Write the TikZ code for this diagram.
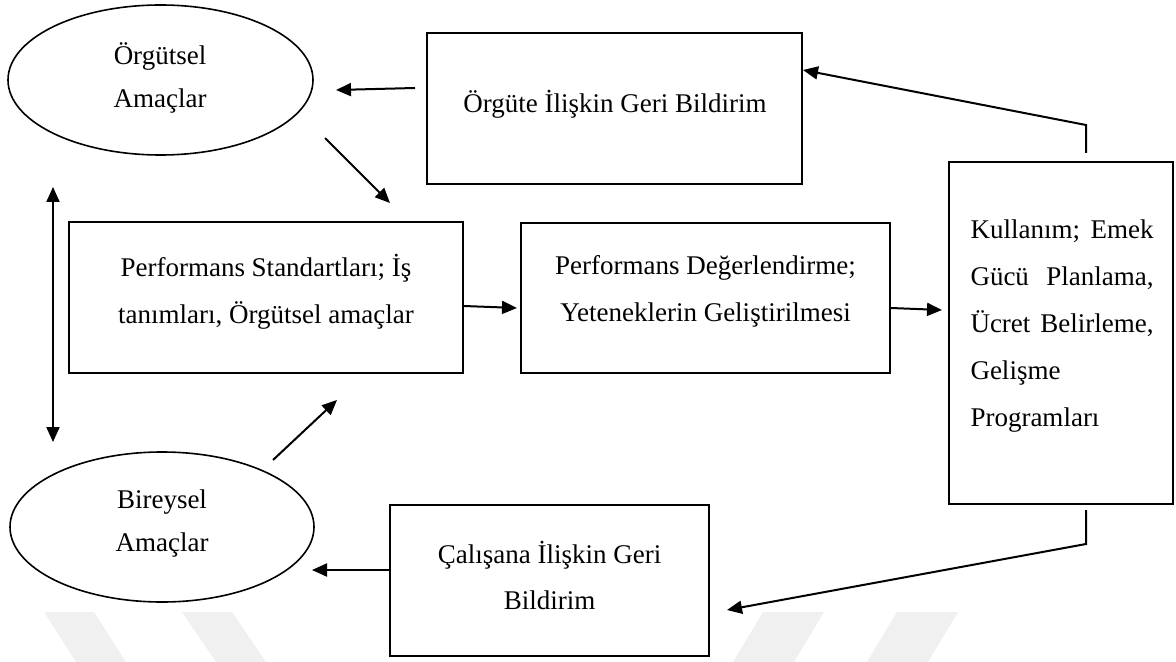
\documentclass[tikz,border=0pt]{standalone}
\usepackage{fontspec}
\setmainfont{Liberation Serif}
\usetikzlibrary{arrows.meta,shapes.geometric}
\begin{document}
\begin{tikzpicture}[x=0.5pt,y=-0.5pt,
  box/.style={draw, line width=1pt, inner sep=0pt},
  oval/.style={draw, ellipse, line width=0.8pt, inner sep=0pt},
  arr/.style={-{Triangle[length=7.5pt,width=6.5pt]}, line width=1pt},
  dbl/.style={{Triangle[length=7.5pt,width=6.5pt]}-{Triangle[length=7.5pt,width=6.5pt]}, line width=1pt},
  lbl/.style={align=center, inner sep=0pt},
  wm/.style={fill=black!6, draw=none},
]
\useasboundingbox (0,0) rectangle (1176,662);

% faint background bands
\fill[wm] (44,612) -- (94,612) -- (126,662) -- (76,662) -- cycle;
\fill[wm] (182,612) -- (232,612) -- (266,662) -- (216,662) -- cycle;
\fill[wm] (763,612) -- (824,612) -- (794,662) -- (733,662) -- cycle;
\fill[wm] (897,612) -- (958,612) -- (928,662) -- (867,662) -- cycle;

% goals
\node[oval, minimum width=152.5pt, minimum height=75pt] (org) at (160.5,80) {};
\node[oval, minimum width=152pt, minimum height=75pt] (bir) at (162,527) {};

% boxes
\node[box, minimum width=187.5pt, minimum height=75.5pt] (fborg) at (614.5,108.5) {};
\node[box, minimum width=197pt, minimum height=75.5pt] (std) at (266,297.5) {};
\node[box, minimum width=184.5pt, minimum height=75pt] (deg) at (705.5,298) {};
\node[box, minimum width=112pt, minimum height=171pt] (use) at (1061,333) {};
\node[box, minimum width=159.5pt, minimum height=75.5pt] (fbcal) at (549.5,580.5) {};

% texts
\node[lbl, font=\fontsize{13.5}{21.5}\selectfont] (torg) at (160,77.5) {Örgütsel\\Amaçlar};
\node[lbl, font=\fontsize{13.5}{21.5}\selectfont] (tbir) at (162,524) {Bireysel\\Amaçlar};
\node[lbl, font=\fontsize{13.5}{21.5}\selectfont] (tfborg) at (615,104) {Örgüte İlişkin Geri Bildirim};
\node[lbl, font=\fontsize{13.5}{23.5}\selectfont] (tstd) at (266,291.5) {Performans Standartları; İş\\tanımları, Örgütsel amaçlar};
\node[lbl, font=\fontsize{13.5}{23.5}\selectfont] (tdeg) at (705.5,291.5) {Performans Değerlendirme;\\Yeteneklerin Geliştirilmesi};
\node[align=left, inner sep=0pt, text width=91.5pt, font=\fontsize{13.5}{23.5}\selectfont] (tuse) at (1062,326)
  {Kullanım;\hfill Emek\\Gücü\hfill Planlama,\\Ücret\hfill Belirleme,\\Gelişme\\Programları};
\node[lbl, font=\fontsize{13.5}{23}\selectfont] (tfbcal) at (549.5,575) {Çalışana İlişkin Geri\\Bildirim};

% connector end points
\coordinate (a1s) at (415,88);   \coordinate (a1e) at (336,90);
\coordinate (a2s) at (325,138);  \coordinate (a2e) at (390,203);
\coordinate (a3s) at (53,187);   \coordinate (a3e) at (53,442);
\coordinate (a4s) at (273,460);  \coordinate (a4e) at (337,400);
\coordinate (a5e) at (517,308);
\coordinate (a6e) at (942,310);
\coordinate (a7s) at (1086,153); \coordinate (a7b) at (1086,125); \coordinate (a7e) at (803,70);
\coordinate (a8s) at (1086,510); \coordinate (a8b) at (1086,544); \coordinate (a8e) at (727,610);
\coordinate (a9e) at (312,570);

% connectors
\draw[arr] (a1s) -- (a1e);
\draw[arr] (a2s) -- (a2e);
\draw[dbl] (a3s) -- (a3e);
\draw[arr] (a4s) -- (a4e);
\draw[arr] (std.east |- 0,306) -- (a5e);
\draw[arr] (deg.east |- 0,308) -- (a6e);
\draw[arr] (a7s) -- (a7b) -- (a7e);
\draw[arr] (a8s) -- (a8b) -- (a8e);
\draw[arr] (fbcal.west |- 0,570) -- (a9e);
\end{tikzpicture}
\end{document}
